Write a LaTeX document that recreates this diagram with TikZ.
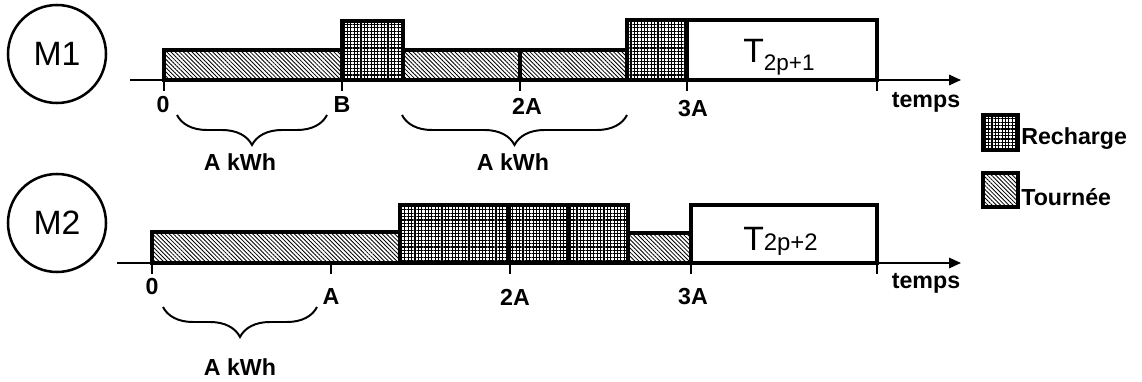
\documentclass[tikz,border=0pt]{standalone}
\usepackage{fontspec}
\setmainfont{Liberation Sans}
\usetikzlibrary{arrows.meta}
\usetikzlibrary{patterns.meta}
\usetikzlibrary{decorations.pathreplacing}
\colorlet{outlineColor}{black}
\colorlet{hatchColor}{black}
\tikzset{
  tourBox/.style={draw=outlineColor, line width=2.5pt, pattern color=hatchColor,
    pattern={Lines[angle=-45, distance=2.1pt, line width=0.6pt]}},
  rechBox/.style={draw=outlineColor, line width=2.5pt, pattern color=hatchColor,
    pattern={Hatch[angle=0, distance=2.4pt, line width=0.8pt]}},
  taskBox/.style={draw=outlineColor, line width=2.5pt, fill=white},
  axisLine/.style={line width=1.4pt, -{Triangle[length=3mm, width=2.6mm]}},
  tickLine/.style={line width=1pt},
  kwhBrace/.style={decorate, decoration={brace, mirror, amplitude=7.5mm}, line width=1.4pt},
  bLabel/.style={font=\bfseries\fontsize{16.5}{18}\selectfont, inner sep=0pt},
  machine/.style={shape=circle, draw, line width=1.8pt, minimum size=24.5mm, inner sep=0pt,
    font=\fontsize{24}{26}\selectfont}
}

\begin{document}
\begin{tikzpicture}[x=0.25mm, y=-0.25mm]
    \useasboundingbox (0,0) rectangle (1142,382);

    % --- Maschinen ---
    \node[machine] (m1) at (57,54) {M1};
    \node[machine] (m2) at (57,223) {M2};

    % --- Zeitachsen ---
    \coordinate (ax1s) at (130,80);
    \coordinate (ax1e) at (961,80);
    \coordinate (ax2s) at (117,263);
    \coordinate (ax2e) at (961,263);
    \draw[axisLine] (ax1s) -- (ax1e);
    \draw[axisLine] (ax2s) -- (ax2e);

    % --- Balken M1 ---
    \draw[tourBox] (164,50) rectangle (342,80);
    \draw[rechBox] (342,21) rectangle (403,80);
    \draw[tourBox] (403,50) rectangle (520,80);
    \draw[tourBox] (520,50) rectangle (627,80);
    \draw[rechBox] (627,20) rectangle (687,80);
    \draw[taskBox] (687,20) rectangle (877,80);

    % --- Balken M2 ---
    \draw[tourBox] (152,232) rectangle (400,263);
    \draw[rechBox] (400,205) rectangle (509,263);
    \draw[rechBox] (509,205) rectangle (569,263);
    \draw[rechBox] (569,205) rectangle (628,263);
    \draw[tourBox] (628,233) rectangle (691,263);
    \draw[taskBox] (691,205) rectangle (877,263);

    % --- Striche ---
    \draw[tickLine] (164,80) -- (164,91);
    \draw[tickLine] (342,80) -- (342,91);
    \draw[tickLine] (520,80) -- (520,91);
    \draw[tickLine] (687,80) -- (687,91);
    \draw[tickLine] (877,80) -- (877,91);
    \draw[tickLine] (152,263) -- (152,274);
    \draw[tickLine] (331,263) -- (331,274);
    \draw[tickLine] (510,263) -- (510,274);
    \draw[tickLine] (691,263) -- (691,274);
    \draw[tickLine] (877,263) -- (877,274);

    % --- Aufgaben ---
    \node[anchor=base west, inner sep=0pt] (t1) at (743,63)
        {\fontsize{24}{26}\selectfont T\raisebox{-2mm}{\fontsize{16}{18}\selectfont 2p+1}};
    \node[anchor=base west, inner sep=0pt] (t2) at (743,250)
        {\fontsize{24}{26}\selectfont T\fontsize{17}{19}\selectfont 2p+2};

    % --- Achsenbeschriftungen ---
    \node[bLabel] (l10) at (163,105) {0};
    \node[bLabel] (l1b) at (342,105) {B};
    \node[bLabel] (l12a) at (527,106) {2A};
    \node[bLabel] (l13a) at (693,109) {3A};
    \node[bLabel, anchor=base] (l1t) at (926,108) {temps};
    \node[bLabel] (l20) at (152,287) {0};
    \node[bLabel] (l2a) at (331,297) {A};
    \node[bLabel] (l22a) at (515,297) {2A};
    \node[bLabel] (l23a) at (693,297) {3A};
    \node[bLabel, anchor=base] (l2t) at (926,288) {temps};

    % --- Klammern ---
    \coordinate (b1s) at (177,115);
    \coordinate (b1e) at (327,115);
    \coordinate (b2s) at (402,115);
    \coordinate (b2e) at (627,115);
    \coordinate (b3s) at (163,307);
    \coordinate (b3e) at (317,307);
    \draw[kwhBrace] (b1s) -- (b1e);
    \draw[kwhBrace] (b2s) -- (b2e);
    \draw[kwhBrace] (b3s) -- (b3e);
    \node[bLabel] (k1) at (240,162) {A kWh};
    \node[bLabel] (k2) at (513,162) {A kWh};
    \node[bLabel] (k3) at (240,367) {A kWh};

    % --- Legende ---
    \draw[rechBox, line width=2.8pt] (983,115) rectangle (1018,150);
    \draw[tourBox, line width=2.8pt] (983,173) rectangle (1018,207);
    \node[bLabel, anchor=base west] (lr) at (1021,145) {Recharge};
    \node[bLabel, anchor=base west] (lt) at (1021,206) {Tournée};

\end{tikzpicture}
\end{document}
